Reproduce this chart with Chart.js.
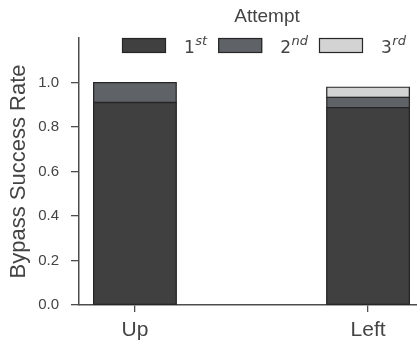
<!DOCTYPE html>
<html><head><meta charset="utf-8">
<script src="https://cdn.jsdelivr.net/npm/chart.js@4/dist/chart.umd.min.js"></script>
<style>html,body{margin:0;padding:0;background:#fff;overflow:hidden}#wrap{width:417px;height:346px;position:relative}canvas{display:block}</style>
</head><body><div id="wrap"><canvas id="c" width="417" height="346"></canvas></div>
<script>
// ---- data ----
const categories = ['Up', 'Left'];
const attemptNumbers = ['1', '2', '3'];
const attemptSuffixes = ['st', 'nd', 'rd'];
const firstAttempt = [0.910, 0.887];
const secondAttempt = [0.090, 0.046];
const thirdAttempt = [0.000, 0.046];
const yTickValues = [0.0, 0.2, 0.4, 0.6, 0.8, 1.0];
const legendTitle = 'Attempt';
const yAxisTitle = 'Bypass Success Rate';

// ---- styles ----
const seriesValues = [firstAttempt, secondAttempt, thirdAttempt];
const seriesColors = ['#404040', '#5f6266', '#d3d3d3'];
const edgeColor = '#262626';
const textColor = '#444444';
const axisColor = '#4d4d4d';
const sansFont = '"Liberation Sans", Arial, Helvetica, sans-serif';
const mathFont = '"DejaVu Sans", sans-serif';

const datasets = seriesValues.map((vals, i) => ({
  label: attemptNumbers[i] + attemptSuffixes[i],
  data: vals.map((v, j) => ({ x: j, y: v })),
  backgroundColor: seriesColors[i],
  borderColor: edgeColor,
  borderWidth: 1.3,
  borderSkipped: false,
  inflateAmount: 0.6,
  categoryPercentage: 1.0,
  barPercentage: 0.355
}));

const legendPlugin = {
  id: 'attemptLegend',
  afterDraw(chart) {
    const ctx = chart.ctx;
    ctx.save();
    ctx.fillStyle = textColor;
    ctx.font = '19px ' + sansFont;
    ctx.textAlign = 'center';
    ctx.textBaseline = 'alphabetic';
    ctx.fillText(legendTitle, 267, 22);
    let x = 122;
    const boxW = 44, boxH = 15, boxTop = 38;
    chart.data.datasets.forEach((ds, i) => {
      ctx.fillStyle = ds.backgroundColor;
      ctx.fillRect(x, boxTop, boxW, boxH);
      ctx.strokeStyle = edgeColor;
      ctx.lineWidth = 1.2;
      ctx.strokeRect(x + 0.5, boxTop + 0.5, boxW - 1, boxH - 1);
      x += boxW + 18;
      ctx.fillStyle = textColor;
      ctx.textAlign = 'left';
      ctx.font = '17px ' + mathFont;
      ctx.fillText(attemptNumbers[i], x, 53);
      x += ctx.measureText(attemptNumbers[i]).width + 0.5;
      ctx.font = 'oblique 13px ' + mathFont;
      ctx.fillText(attemptSuffixes[i], x, 45);
      x += ctx.measureText(attemptSuffixes[i]).width + 11;
    });
    ctx.restore();
  }
};

new Chart(document.getElementById('c'), {
  type: 'bar',
  data: { datasets },
  plugins: [legendPlugin],
  options: {
    responsive: false,
    animation: false,
    devicePixelRatio: 1,
    layout: { padding: { top: 38, left: 0, right: 0, bottom: 0 } },
    plugins: { legend: { display: false }, tooltip: { enabled: false } },
    scales: {
      x: {
        type: 'linear',
        stacked: true,
        offset: false,
        min: -0.24,
        max: 1.21,
        afterBuildTicks: (s) => { s.ticks = categories.map((c, i) => ({ value: i })); },
        afterFit: (s) => { s.height = 41; },
        ticks: {
          callback: (v) => categories[Math.round(v)] ?? '',
          color: textColor,
          font: { family: sansFont, size: 21 },
          padding: 6,
          maxRotation: 0
        },
        grid: { display: true, offset: false, drawOnChartArea: false, drawTicks: true, tickLength: 7, color: axisColor, lineWidth: 1.3 },
        border: { display: true, color: axisColor, width: 1.5 }
      },
      y: {
        stacked: true,
        min: 0,
        max: 1.2,
        afterBuildTicks: (s) => { s.ticks = yTickValues.map(v => ({ value: v })); },
        afterFit: (s) => { s.width = 79; },
        ticks: {
          callback: (v) => Number(v).toFixed(1),
          color: textColor,
          font: { family: sansFont, size: 15 },
          padding: 12
        },
        title: {
          display: true,
          text: yAxisTitle,
          color: textColor,
          font: { family: sansFont, size: 22 },
          padding: { top: 6, bottom: 0 }
        },
        grid: { display: true, drawOnChartArea: false, drawTicks: true, tickLength: 8, color: axisColor, lineWidth: 1.3 },
        border: { display: true, color: axisColor, width: 1.5 }
      }
    }
  }
});
</script>
</body></html>
